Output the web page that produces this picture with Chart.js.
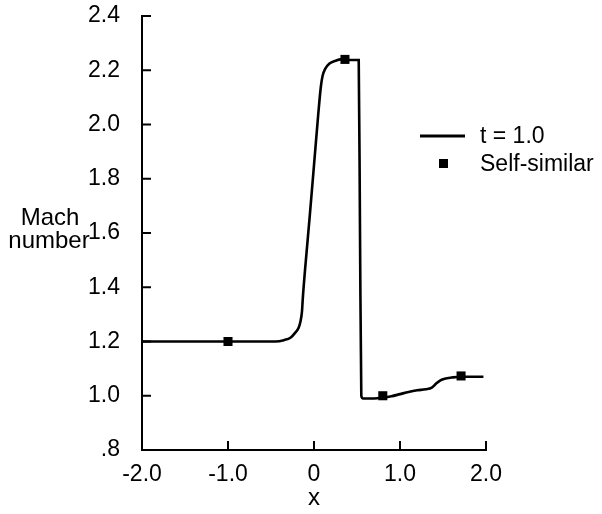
<!DOCTYPE html>
<html>
<head>
<meta charset="utf-8">
<script src="https://cdn.jsdelivr.net/npm/chart.js@4.4.0/dist/chart.umd.min.js"></script>
<style>
body { margin: 0; background: #fff; }
canvas { display: block; }
</style>
</head>
<body>
<canvas id="mach" width="602" height="514"></canvas>
<script>
// t = 1.0 solution
var curveX = [-2.0, -1.5, -1.0, -0.6, -0.45, -0.35, -0.27, -0.22, -0.18, -0.16, -0.14, -0.13, -0.10, -0.05, 0.00, 0.05, 0.08, 0.10, 0.13, 0.18, 0.25, 0.31, 0.40, 0.52, 0.535, 0.55, 0.57, 0.62, 0.70, 0.80, 0.90, 1.00, 1.10, 1.20, 1.30, 1.37, 1.42, 1.47, 1.52, 1.60, 1.70, 1.80, 1.90, 1.97];
var curveY = [1.2, 1.2, 1.2, 1.2, 1.2, 1.205, 1.215, 1.232, 1.25, 1.27, 1.31, 1.36, 1.48, 1.66, 1.85, 2.04, 2.14, 2.18, 2.205, 2.225, 2.235, 2.24, 2.238, 2.238, 1.6, 1.0, 0.99, 0.99, 0.99, 0.993, 0.998, 1.006, 1.014, 1.02, 1.024, 1.03, 1.045, 1.057, 1.063, 1.067, 1.07, 1.07, 1.07, 1.07];

// Self-similar points
var simX = [-1.0, 0.36, 0.80, 1.71];
var simY = [1.20, 2.24, 1.00, 1.073];

var xTicks = [-2, -1, 0, 1, 2];
var xTickLabels = ['-2.0', '-1.0', '0', '1.0', '2.0'];
var yTicks = [0.8, 1.0, 1.2, 1.4, 1.6, 1.8, 2.0, 2.2, 2.4];
var yTickLabels = ['.8', '1.0', '1.2', '1.4', '1.6', '1.8', '2.0', '2.2', '2.4'];

var FONT = '"Liberation Sans", Arial, Helvetica, sans-serif';

function toPoints(xs, ys) {
    return xs.map(function(x, i) { return {x: x, y: ys[i]}; });
}

// ticks pointing into the plot, legend and the axis titles
var extras = {
    id: 'extras',
    afterDraw: function(chart) {
        var ctx = chart.ctx;
        var xs = chart.scales.x, ys = chart.scales.y;
        var area = chart.chartArea;
        ctx.save();
        ctx.strokeStyle = '#000';
        ctx.lineWidth = 2;
        ctx.beginPath();
        xTicks.forEach(function(v) {
            var px = xs.getPixelForValue(v);
            ctx.moveTo(px, area.bottom);
            ctx.lineTo(px, area.bottom - 9);
        });
        yTicks.forEach(function(v) {
            var py = ys.getPixelForValue(v);
            ctx.moveTo(area.left, py);
            ctx.lineTo(area.left + 9, py);
        });
        ctx.stroke();

        ctx.fillStyle = '#000';
        ctx.font = '24px ' + FONT;
        ctx.textBaseline = 'middle';
        ctx.textAlign = 'center';
        ctx.fillText('Mach', 50, 218);
        ctx.fillText('number', 49, 241);
        ctx.fillText('x', xs.getPixelForValue(0), 498);

        // legend
        ctx.font = '23px ' + FONT;
        ctx.textAlign = 'left';
        ctx.lineWidth = 3;
        ctx.beginPath();
        ctx.moveTo(420, 136);
        ctx.lineTo(465, 136);
        ctx.stroke();
        ctx.fillText('t = 1.0', 480, 137);
        ctx.fillRect(439, 159, 9, 9);
        ctx.fillText('Self-similar', 480, 165);
        ctx.restore();
    }
};

window.onload = function() {
    var ctx = document.getElementById('mach').getContext('2d');
    new Chart(ctx, {
        type: 'line',
        data: {
            datasets: [
                {
                    label: 't = 1.0',
                    data: toPoints(curveX, curveY),
                    borderColor: '#000',
                    borderWidth: 2.6,
                    pointRadius: 0,
                    fill: false,
                    cubicInterpolationMode: 'monotone'
                },
                {
                    label: 'Self-similar',
                    data: toPoints(simX, simY),
                    showLine: false,
                    pointStyle: 'rect',
                    pointRadius: 6.4,
                    pointBorderWidth: 0,
                    pointBackgroundColor: '#000',
                    borderColor: '#000'
                }
            ]
        },
        options: {
            responsive: false,
            animation: false,
            events: [],
            layout: {
                padding: {top: 16, right: 116, left: 0, bottom: 0}
            },
            plugins: {
                legend: {display: false},
                tooltip: {enabled: false}
            },
            scales: {
                x: {
                    type: 'linear',
                    min: -2,
                    max: 2,
                    afterBuildTicks: function(scale) {
                        scale.ticks = xTicks.map(function(v) { return {value: v}; });
                    },
                    afterFit: function(scale) {
                        scale.height = 64;
                        scale.paddingLeft = 0;
                        scale.paddingRight = 0;
                    },
                    grid: {display: false},
                    border: {display: true, color: '#000', width: 2},
                    ticks: {
                        color: '#000',
                        padding: 3,
                        maxRotation: 0,
                        font: {family: FONT, size: 23},
                        callback: function(value) {
                            return xTickLabels[xTicks.indexOf(Math.round(value))];
                        }
                    }
                },
                y: {
                    type: 'linear',
                    min: 0.8,
                    max: 2.4,
                    afterBuildTicks: function(scale) {
                        scale.ticks = yTicks.map(function(v) { return {value: v}; });
                    },
                    afterFit: function(scale) {
                        scale.width = 142;
                        scale.paddingTop = 0;
                        scale.paddingBottom = 0;
                    },
                    grid: {display: false},
                    border: {display: true, color: '#000', width: 2},
                    ticks: {
                        color: '#000',
                        padding: 14,
                        font: {family: FONT, size: 23},
                        callback: function(value) {
                            var i = yTicks.findIndex(function(v) { return Math.abs(v - value) < 1e-6; });
                            return yTickLabels[i];
                        }
                    }
                }
            }
        },
        plugins: [extras]
    });
};
</script>
</body>
</html>
